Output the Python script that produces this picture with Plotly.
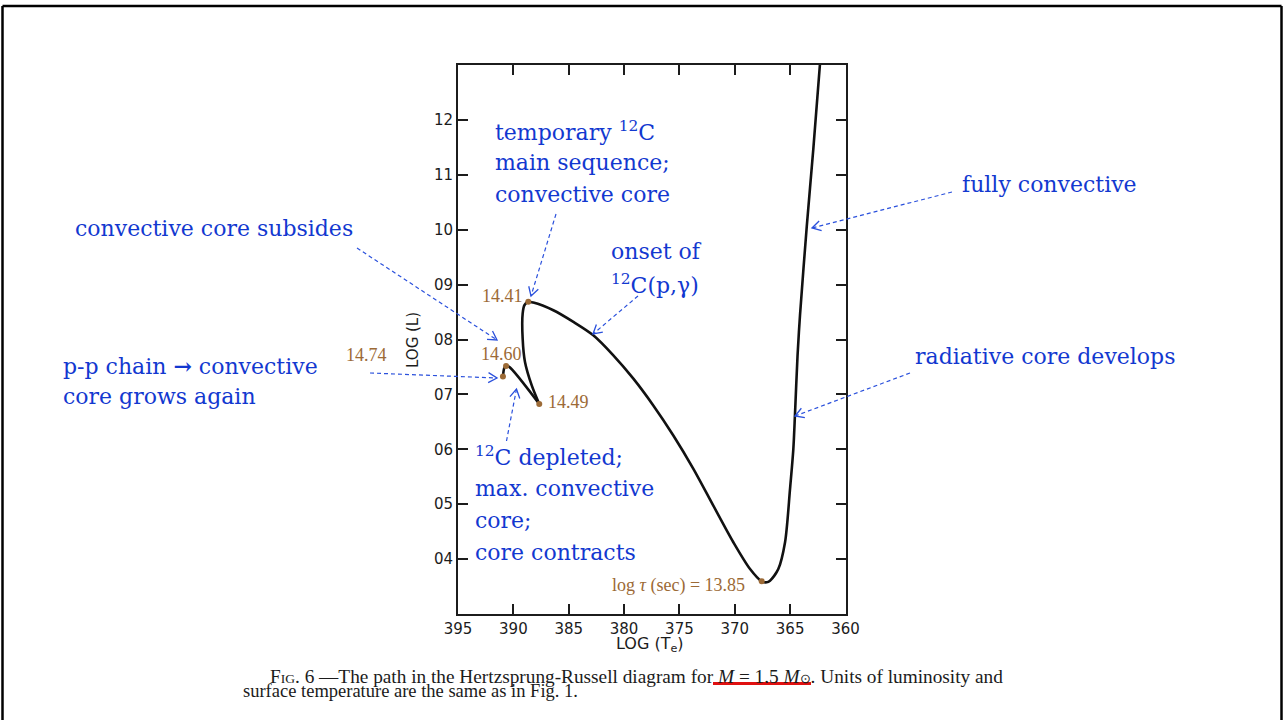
import numpy as np
import plotly.graph_objects as go

W, H = 1285, 720

# ---- evolutionary track of a 1.5 solar-mass star (log Te, log L) ----
# early hook: start of the run down to the 14.49 turning point
hook_logte = [3.9094, 3.9082, 3.9066, 3.9037, 3.8766]
hook_logl = [0.7328, 0.7482, 0.7518, 0.7500, 0.6825]

# from the 14.49 turning point through the loop, down to the minimum and up the Hayashi line
main_logte = [3.8766, 3.8834, 3.8895, 3.8916, 3.8916, 3.8899, 3.8865, 3.8820,
              3.8639, 3.8458, 3.8278, 3.8097, 3.7916, 3.7736, 3.7555, 3.7374,
              3.7194, 3.7013, 3.6862, 3.6757, 3.6711, 3.6682, 3.6607, 3.6546,
              3.6501, 3.6471, 3.6456, 3.6433, 3.6411, 3.6350, 3.6290, 3.6230]
main_logl = [0.6825, 0.7164, 0.7591, 0.8016, 0.8473, 0.8628, 0.8686, 0.8673,
             0.8533, 0.8321, 0.8077, 0.7712, 0.7287, 0.6799, 0.6252, 0.5644,
             0.4974, 0.4307, 0.3819, 0.3595, 0.3577, 0.3606, 0.3819, 0.4307,
             0.5279, 0.6009, 0.6649, 0.7712, 0.8442, 1.0055, 1.1484, 1.3035]

# marked epochs, log tau (sec)
epoch_age = [14.74, 14.60, 14.49, 14.41, 13.85]
epoch_logte = [3.9094, 3.9066, 3.8766, 3.8865, 3.6757]
epoch_logl = [0.7328, 0.7518, 0.6825, 0.8686, 0.3595]

# axis ticks
x_tickvals = [3.95, 3.90, 3.85, 3.80, 3.75, 3.70, 3.65, 3.60]
x_ticktext = ["395", "390", "385", "380", "375", "370", "365", "360"]
y_tickvals = [0.4, 0.5, 0.6, 0.7, 0.8, 0.9, 1.0, 1.1, 1.2]
y_ticktext = ["04", "05", "06", "07", "08", "09", "10", "11", "12"]

INK = "#1c1c1c"
BROWN = "#9c6a36"
BLUE = "#1238d0"
ARROW = "#2a50dc"


def px(x):
    return x / W


def py(y):
    return 1 - y / H


fig = go.Figure()

for xs, ys in [(hook_logte, hook_logl), (main_logte, main_logl)]:
    fig.add_trace(go.Scatter(x=xs, y=ys, mode="lines",
                             line=dict(color="#111111", width=2.6, shape="spline", smoothing=0.8),
                             hoverinfo="skip"))

fig.add_trace(go.Scatter(x=epoch_logte, y=epoch_logl, mode="markers",
                         marker=dict(color=BROWN, size=6), hoverinfo="skip"))

# epoch labels: (xanchor, xshift, yshift)
label_place = [("right", -114, 21), ("center", -5, 12), ("left", 7, 2),
               ("right", -3, 6), ("right", -15, -4)]
annotations = []
for age, lx, ly, (anc, dx, dy) in zip(epoch_age, epoch_logte, epoch_logl, label_place):
    txt = f"{age:.2f}"
    if age == min(epoch_age):
        txt = f"log <i>τ</i> (sec) = {age:.2f}"
    annotations.append(dict(x=lx, y=ly, xref="x", yref="y", text=txt, showarrow=False,
                            xanchor=anc, yanchor="middle", xshift=dx, yshift=dy,
                            font=dict(family="Liberation Serif", size=18, color=BROWN)))

# blue commentary, one entry per line: (text, left x, centre y) in page pixels
notes = [
    ("temporary <sup>12</sup>C", 493, 131),
    ("main sequence;", 493, 163),
    ("convective core", 493, 195),
    ("onset of", 609, 251),
    ("<sup>12</sup>C(p,γ)", 609, 284),
    ("fully convective", 960, 184),
    ("convective core subsides", 73, 228),
    ("p-p chain <b>→</b> convective", 61, 366),
    ("core grows again", 61, 396),
    ("radiative core develops", 913, 356),
    ("<sup>12</sup>C depleted;", 473, 456),
    ("max. convective", 473, 488),
    ("core;", 473, 520),
    ("core contracts", 473, 552),
]
for txt, x, y in notes:
    annotations.append(dict(x=px(x), y=py(y), xref="paper", yref="paper", text=txt,
                            showarrow=False, xanchor="left", yanchor="middle",
                            font=dict(family="DejaVu Serif", size=22, color=BLUE)))

# axis titles
annotations.append(dict(x=px(413), y=py(340), xref="paper", yref="paper", text="LOG (L)",
                        textangle=-90, showarrow=False, xanchor="center", yanchor="middle",
                        font=dict(family="DejaVu Sans", size=15, color=INK)))
annotations.append(dict(x=px(650), y=py(644), xref="paper", yref="paper",
                        text="LOG (T<sub>e</sub>)", showarrow=False,
                        xanchor="center", yanchor="middle",
                        font=dict(family="DejaVu Sans", size=16, color=INK)))

# figure caption (first line set slightly wider, as in the justified original)
annotations.append(dict(
    x=px(268), y=py(676), xref="paper", yref="paper", xanchor="left", yanchor="middle",
    showarrow=False, font=dict(family="Liberation Serif", size=19.3, color="#1b1b1b"),
    text='F<span style="font-size:13.5px">IG</span>. 6 —The path in the Hertzsprung-Russell '
         'diagram for <i>M</i> = 1.5 <i>M</i><span style="font-size:12.5px">⊙</span>. '
         'Units of luminosity and'))
annotations.append(dict(
    x=px(241), y=py(691), xref="paper", yref="paper", xanchor="left", yanchor="middle",
    showarrow=False, font=dict(family="Liberation Serif", size=18.5, color="#1b1b1b"),
    text="surface temperature are the same as in Fig. 1."))

# dashed pointer arrows: (start, tip) in page pixels
pointers = [
    ((556, 214), (531, 296)),
    ((638, 296), (593, 334)),
    ((357, 248), (497, 340)),
    ((370, 373), (497, 378)),
    ((506.5, 441), (516.5, 389)),
    ((952, 192), (812, 228)),
    ((910, 373), (795, 416)),
]
shapes = []
for (x0, y0), (x1, y1) in pointers:
    shapes.append(dict(type="line", xref="paper", yref="paper",
                       x0=px(x0), y0=py(y0), x1=px(x1), y1=py(y1),
                       line=dict(color=ARROW, width=1.2, dash="4px,3px")))
    u = np.array([x1 - x0, y1 - y0], dtype=float)
    u /= np.linalg.norm(u)
    pts = []
    for ang in (np.radians(30), -np.radians(30)):
        c, s = np.cos(ang), np.sin(ang)
        r = np.array([c * u[0] - s * u[1], s * u[0] + c * u[1]])
        pts.append((x1 - 10 * r[0], y1 - 10 * r[1]))
    path = (f"M{px(pts[0][0])},{py(pts[0][1])} L{px(x1)},{py(y1)} "
            f"L{px(pts[1][0])},{py(pts[1][1])}")
    shapes.append(dict(type="path", xref="paper", yref="paper", path=path,
                       line=dict(color=ARROW, width=1.3)))

# red underline under the mass value in the caption
shapes.append(dict(type="line", xref="paper", yref="paper",
                   x0=px(713), y0=py(683.5), x1=px(811), y1=py(683.5),
                   line=dict(color="#e01010", width=3)))

# slide frame: left, top and right edges
for (x0, y0, x1, y1) in [(2.5, 720, 2.5, 6), (2.5, 6, 1281.5, 6), (1281.5, 6, 1281.5, 720)]:
    shapes.append(dict(type="line", xref="paper", yref="paper",
                       x0=px(x0), y0=py(y0), x1=px(x1), y1=py(y1),
                       line=dict(color="black", width=2.5)))

axis_common = dict(showgrid=False, zeroline=False, showline=True, mirror="ticks",
                   linecolor=INK, linewidth=2, ticks="inside", ticklen=10,
                   tickwidth=2, tickcolor=INK, automargin=False,
                   tickfont=dict(family="DejaVu Sans", size=15, color=INK))

fig.update_layout(
    width=W, height=H, autosize=False,
    margin=dict(l=0, r=0, t=0, b=0, pad=0, autoexpand=False),
    paper_bgcolor="white", plot_bgcolor="white",
    showlegend=False,
    xaxis=dict(domain=[px(458), px(845.5)], range=[3.95, 3.60],
               tickvals=x_tickvals, ticktext=x_ticktext, **axis_common),
    yaxis=dict(domain=[py(614), py(65)], range=[0.3, 1.3],
               tickvals=y_tickvals, ticktext=y_ticktext, **axis_common),
    annotations=annotations,
    shapes=shapes,
)

fig.write_html("out.html", config={"responsive": False, "displayModeBar": False})
